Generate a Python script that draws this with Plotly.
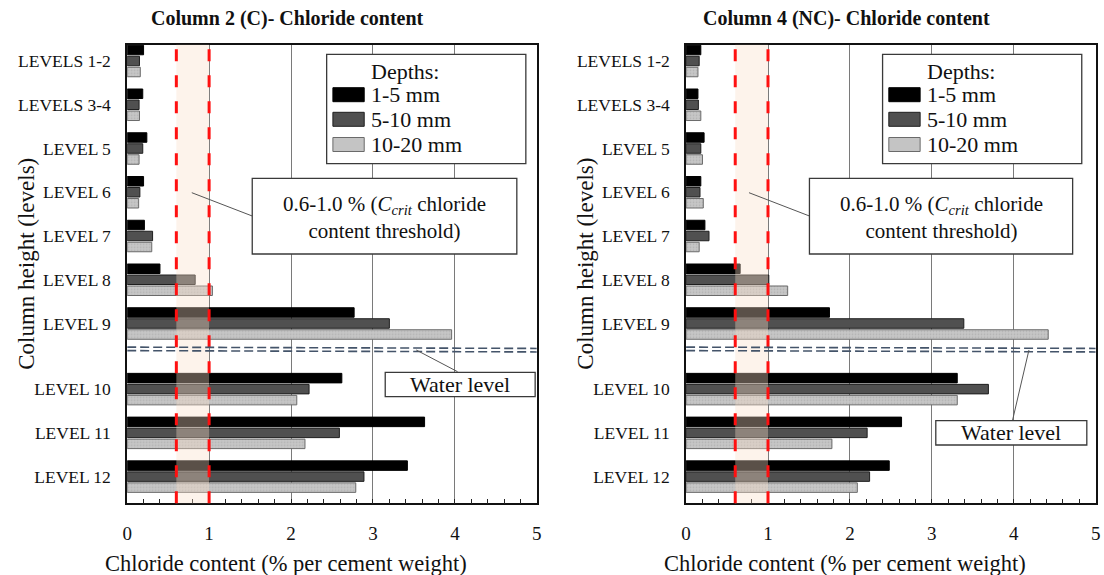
import plotly.graph_objects as go

# ---------------- data ----------------
levels = ["LEVELS 1-2", "LEVELS 3-4", "LEVEL 5", "LEVEL 6", "LEVEL 7",
          "LEVEL 8", "LEVEL 9", "LEVEL 10", "LEVEL 11", "LEVEL 12"]
level_pos = [0, 1, 2, 3, 4, 5, 6, 7.5, 8.5, 9.5]   # gap for the water level

depths = ["1-5 mm", "5-10 mm", "10-20 mm"]

c2_1_5   = [0.20, 0.19, 0.24, 0.20, 0.21, 0.40, 2.77, 2.62, 3.63, 3.42]
c2_5_10  = [0.15, 0.145, 0.19, 0.155, 0.31, 0.83, 3.20, 2.22, 2.59, 2.89]
c2_10_20 = [0.16, 0.15, 0.145, 0.14, 0.30, 1.04, 3.96, 2.07, 2.17, 2.79]

c4_1_5   = [0.18, 0.145, 0.22, 0.18, 0.23, 0.66, 1.75, 3.31, 2.63, 2.48]
c4_5_10  = [0.16, 0.15, 0.18, 0.17, 0.28, 1.01, 3.39, 3.69, 2.21, 2.24]
c4_10_20 = [0.145, 0.18, 0.20, 0.21, 0.16, 1.24, 4.42, 3.31, 1.78, 2.09]

ccrit_low, ccrit_high = 0.6, 1.0
water_level = 6.58

titles = ["Column 2 (C)- Chloride content", "Column 4 (NC)- Chloride content"]

# ---------------- style ----------------
W, H = 1104, 575
FONT = "Liberation Serif"
fills = ["#000000", "#505050", "#c4c4c4"]
edges = ["#000000", "#1e1e1e", "#6a6a6a"]

def px(x):
    return x / W

def py(y):
    return 1 - y / H

fig = go.Figure()

panels = [
    dict(data=[c2_1_5, c2_5_10, c2_10_20], xa="x", ya="y", xl=123.3, xr=536.7),
    dict(data=[c4_1_5, c4_5_10, c4_10_20], xa="x2", ya="y2", xl=687.3, xr=1100.7),
]

top_px, bot_px = 44.7, 503.3
for p in panels:
    for i, vals in enumerate(p["data"]):
        mk = dict(color=fills[i], line=dict(color=edges[i], width=1))
        if i == 2:
            mk["pattern"] = dict(shape=".", bgcolor="#c6c6c6", fgcolor="#9a9a9a",
                                 size=3, solidity=0.25)
        fig.add_trace(go.Bar(
            x=vals, y=level_pos, orientation="h", name=depths[i],
            marker=mk, xaxis=p["xa"], yaxis=p["ya"], showlegend=False,
            hoverinfo="x+name"))

axis_common_x = dict(range=[0, 5], dtick=1, showgrid=True, gridcolor="#7a7a7a",
                     gridwidth=1.2, ticks="inside", ticklen=5, tickcolor="#222",
                     minor=dict(dtick=0.2, ticks="inside", ticklen=5,
                                tickcolor="#222", showgrid=False),
                     showline=True, linecolor="#111", linewidth=1.6, mirror=True,
                     zeroline=False, tickfont=dict(family=FONT, size=19, color="#111"),
                     ticklabelstandoff=12, fixedrange=True)
axis_common_y = dict(range=[10.11, -0.373], tickvals=level_pos, ticktext=levels,
                     ticks="", showgrid=False, showline=True, linecolor="#111",
                     linewidth=1.6, mirror=True, zeroline=False,
                     tickfont=dict(family=FONT, size=17.5, color="#111"),
                     ticklabelstandoff=11, fixedrange=True)

layout_axes = {}
for k, p in enumerate(panels):
    xn = "xaxis" if k == 0 else "xaxis2"
    yn = "yaxis" if k == 0 else "yaxis2"
    layout_axes[xn] = dict(axis_common_x, domain=[px(p["xl"]), px(p["xr"])],
                           anchor=p["ya"])
    layout_axes[yn] = dict(axis_common_y, domain=[py(bot_px), py(top_px)],
                           anchor=p["xa"])

shapes = []
annotations = []

for k, p in enumerate(panels):
    xa, ya = p["xa"], p["ya"]
    off = 0 if k == 0 else 564
    # threshold band
    shapes.append(dict(type="rect", xref=xa, yref=f"{ya} domain",
                       x0=ccrit_low, x1=ccrit_high, y0=0, y1=1,
                       fillcolor="rgba(250,222,200,0.36)", line=dict(width=0),
                       layer="above"))
    for xv in (ccrit_low, ccrit_high):
        shapes.append(dict(type="line", xref=xa, yref=f"{ya} domain",
                           x0=xv, x1=xv, y0=0, y1=1,
                           line=dict(color="#ff1010", width=3, dash="12px,14px"),
                           layer="above"))
    # water level (double dashed line)
    for dy in (-0.04, 0.04):
        shapes.append(dict(type="line", xref=xa, yref=ya, x0=0, x1=5,
                           y0=water_level + dy, y1=water_level + dy + 0.03,
                           line=dict(color="#44546a", width=1.6, dash="9px,4px"),
                           layer="above"))

    # legend box
    lx0, lx1 = 324.6 + off + (0 if k == 0 else -3), 525.6 + off + (0 if k == 0 else -3)
    shapes.append(dict(type="rect", xref="paper", yref="paper",
                       x0=px(lx0), x1=px(lx1), y0=py(163.7), y1=py(54.3),
                       fillcolor="white", line=dict(color="#3a3a3a", width=1.3),
                       layer="above"))
    annotations.append(dict(text="Depths:", xref="paper", yref="paper",
                            x=px(lx0 + 79), y=py(71.5), showarrow=False,
                            xanchor="center", yanchor="middle",
                            font=dict(family=FONT, size=22, color="#111")))
    ys = [94.7, 119.3, 144.5]
    for i in range(3):
        shapes.append(dict(type="rect", xref="paper", yref="paper",
                           x0=px(lx0 + 6.3), x1=px(lx0 + 37.9),
                           y0=py(ys[i] + 7), y1=py(ys[i] - 7),
                           fillcolor=fills[i], line=dict(color=edges[i], width=1),
                           layer="above"))
        annotations.append(dict(text=depths[i], xref="paper", yref="paper",
                                x=px(lx0 + 43), y=py(ys[i]), showarrow=False,
                                xanchor="left", yanchor="middle",
                                font=dict(family=FONT, size=22, color="#111")))

    # threshold annotation box
    tx0, tx1 = (249.5, 516.5) if k == 0 else (811.8, 1077.4)
    shapes.append(dict(type="line", xref="paper", yref="paper",
                       x0=px(tx0 - 61), y0=py(192.7), x1=px(tx0), y1=py(216),
                       line=dict(color="#555", width=1), layer="above"))
    shapes.append(dict(type="rect", xref="paper", yref="paper",
                       x0=px(tx0), x1=px(tx1), y0=py(254), y1=py(178.3),
                       fillcolor="white", line=dict(color="#3a3a3a", width=1.3),
                       layer="above"))
    annotations.append(dict(
        text="0.6-1.0 % (<i>C<sub>crit</sub></i> chloride<br>content threshold)",
        xref="paper", yref="paper", x=px((tx0 + tx1) / 2), y=py(217),
        showarrow=False, xanchor="center", yanchor="middle", align="center",
        font=dict(family=FONT, size=21, color="#111")))

    # water level box
    if k == 0:
        wx0, wx1, wy0, wy1 = 383.7, 535.0, 372.3, 396.7
        lead = (456.7, 371.7, 415.0, 350.0)
    else:
        wx0, wx1, wy0, wy1 = 939.3, 1091.7, 420.7, 445.0
        lead = (1016.7, 420.5, 1033.3, 350.0)
    shapes.append(dict(type="line", xref="paper", yref="paper",
                       x0=px(lead[0]), y0=py(lead[1]), x1=px(lead[2]), y1=py(lead[3]),
                       line=dict(color="#555", width=1), layer="above"))
    shapes.append(dict(type="rect", xref="paper", yref="paper",
                       x0=px(wx0), x1=px(wx1), y0=py(wy1), y1=py(wy0),
                       fillcolor="white", line=dict(color="#3a3a3a", width=1.3),
                       layer="above"))
    annotations.append(dict(text="Water level", xref="paper", yref="paper",
                            x=px((wx0 + wx1) / 2), y=py((wy0 + wy1) / 2),
                            showarrow=False, xanchor="center", yanchor="middle",
                            font=dict(family=FONT, size=22, color="#111")))

    # titles and axis titles
    annotations.append(dict(text=f"<b>{titles[k]}</b>", xref="paper", yref="paper",
                            x=px(285 + off), y=py(19), showarrow=False,
                            xanchor="center", yanchor="middle",
                            font=dict(family=FONT, size=20, color="#111")))
    annotations.append(dict(text="Chloride content (% per cement weight)",
                            xref="paper", yref="paper", x=px(284 + off), y=py(563),
                            showarrow=False, xanchor="center", yanchor="middle",
                            font=dict(family=FONT, size=22.5, color="#111")))
    annotations.append(dict(text="Column height (levels)", xref="paper", yref="paper",
                            x=px(22 + off), y=py(264), showarrow=False, textangle=-90,
                            xanchor="center", yanchor="middle",
                            font=dict(family=FONT, size=23, color="#111")))

fig.update_layout(
    width=W, height=H, autosize=False,
    margin=dict(l=0, r=0, t=0, b=0),
    paper_bgcolor="white", plot_bgcolor="white",
    barmode="group", bargap=0.246, bargroupgap=0.135,
    showlegend=False,
    shapes=shapes, annotations=annotations,
    **layout_axes,
)

fig.write_html("out.html", config={"displayModeBar": False})
